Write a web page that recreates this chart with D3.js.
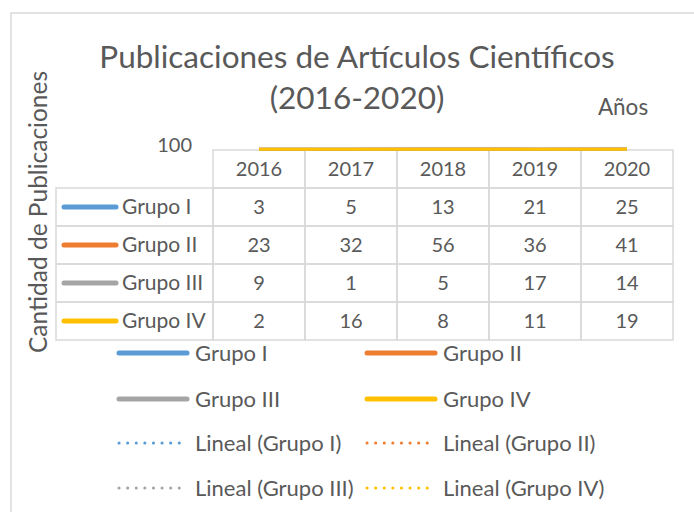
<!DOCTYPE html>
<html>
<head>
<meta charset="utf-8">
<script src="https://cdn.jsdelivr.net/npm/d3@7"></script>
<style>
  body { margin: 0; background: #fff; }
  text { font-family: Lato, "Open Sans", sans-serif; fill: #595959; }
</style>
</head>
<body>
<div id="chart"></div>
<script>
// Data
const years = ['2016', '2017', '2018', '2019', '2020'];
const seriesNames = ['Grupo I', 'Grupo II', 'Grupo III', 'Grupo IV'];
const grupoI = [3, 5, 13, 21, 25];
const grupoII = [23, 32, 56, 36, 41];
const grupoIII = [9, 1, 5, 17, 14];
const grupoIV = [2, 16, 8, 11, 19];
const yTicks = [100];
const colors = ['#5B9BD5', '#ED7D31', '#A5A5A5', '#FFC000'];

const series = seriesNames.map((name, i) => ({
    name: name,
    values: [grupoI, grupoII, grupoIII, grupoIV][i],
    color: colors[i]
}));

const width = 694;
const height = 512;
const grid = '#d9d9d9';

const svg = d3.select('#chart')
    .append('svg')
    .attr('width', width)
    .attr('height', height);

// chart border
svg.append('path')
    .attr('d', 'M11,520 L11,13 L700,13')
    .attr('fill', 'none')
    .attr('stroke', grid)
    .attr('stroke-width', 1.5);

// Title
svg.append('text')
    .attr('x', 357).attr('y', 68)
    .attr('text-anchor', 'middle')
    .style('font-size', '31.5px')
    .text('Publicaciones de Artículos Científicos');
svg.append('text')
    .attr('x', 357).attr('y', 109)
    .attr('text-anchor', 'middle')
    .style('font-size', '31.5px')
    .text('(2016-2020)');

// Axis titles
svg.append('text')
    .attr('x', 623).attr('y', 115)
    .attr('text-anchor', 'middle')
    .style('font-size', '22.5px')
    .text('Años');
svg.append('text')
    .attr('transform', 'translate(47,212) rotate(-90)')
    .attr('text-anchor', 'middle')
    .style('font-size', '24.5px')
    .text('Cantidad de Publicaciones');

// Scales: plot area is squeezed to the top edge of the data table
const x = d3.scaleBand()
    .domain(years)
    .range([213, 673]);
const y = d3.scaleLinear()
    .domain([0, 100])
    .range([149.2, 149]);

svg.append('g')
    .attr('transform', 'translate(192,0)')
    .call(d3.axisLeft(y).tickValues(yTicks).tickSize(0).tickPadding(0))
    .call(g => g.select('.domain').remove())
    .selectAll('text')
    .style('font-size', '20px')
    .style('font-family', 'Lato, sans-serif')
    .attr('fill', '#595959')
    .attr('dy', '0.1em');

const cx = d => x(d) + x.bandwidth() / 2;

// Data table
const headTop = 150, rowH = 38, keyLeft = 56;
const tbl = svg.append('g');

// header cells
years.forEach(yr => {
    tbl.append('rect')
        .attr('x', x(yr)).attr('y', headTop)
        .attr('width', x.bandwidth()).attr('height', rowH)
        .attr('fill', 'none').attr('stroke', grid).attr('stroke-width', 1.5);
    tbl.append('text')
        .attr('x', cx(yr)).attr('y', headTop + rowH / 2)
        .attr('dy', '0.35em')
        .attr('text-anchor', 'middle')
        .style('font-size', '20px')
        .text(yr);
});

series.forEach((s, i) => {
    const top = headTop + rowH * (i + 1);
    tbl.append('rect')
        .attr('x', keyLeft).attr('y', top)
        .attr('width', x(years[0]) - keyLeft).attr('height', rowH)
        .attr('fill', 'none').attr('stroke', grid).attr('stroke-width', 1.5);
    tbl.append('line')
        .attr('x1', 64).attr('x2', 116)
        .attr('y1', top + rowH / 2).attr('y2', top + rowH / 2)
        .attr('stroke', s.color).attr('stroke-width', 5)
        .attr('stroke-linecap', 'round');
    tbl.append('text')
        .attr('x', 122).attr('y', top + rowH / 2)
        .attr('dy', '0.35em')
        .style('font-size', '21px')
        .text(s.name);
    s.values.forEach((v, j) => {
        tbl.append('rect')
            .attr('x', x(years[j])).attr('y', top)
            .attr('width', x.bandwidth()).attr('height', rowH)
            .attr('fill', 'none').attr('stroke', grid).attr('stroke-width', 1.5);
        tbl.append('text')
            .attr('x', cx(years[j])).attr('y', top + rowH / 2)
            .attr('dy', '0.35em')
            .attr('text-anchor', 'middle')
            .style('font-size', '20px')
            .text(v);
    });
});

// Trend lines (linear fit)
function fit(values) {
    const n = values.length;
    const xs = d3.range(n);
    const mx = d3.mean(xs), my = d3.mean(values);
    const b = d3.sum(xs, (v, i) => (v - mx) * (values[i] - my)) / d3.sum(xs, v => (v - mx) * (v - mx));
    return xs.map(v => my + b * (v - mx));
}

const line = d3.line()
    .x((d, i) => cx(years[i]))
    .y(d => y(d));

// trend lines first, series lines on top (Grupo IV ends up visible)
series.forEach(s => {
    svg.append('path')
        .datum(fit(s.values))
        .attr('fill', 'none')
        .attr('stroke', s.color)
        .attr('stroke-width', 2)
        .attr('stroke-dasharray', '2,3')
        .attr('d', line);
});
series.forEach(s => {
    svg.append('path')
        .datum(s.values)
        .attr('fill', 'none')
        .attr('stroke', s.color)
        .attr('stroke-width', 3)
        .attr('d', line);
});

// Legend
const legendItems = series.map(s => ({ label: s.name, color: s.color, dotted: false }))
    .concat(series.map(s => ({ label: 'Lineal (' + s.name + ')', color: s.color, dotted: true })));
const legendRows = [353, 399, 443, 488];
const legendCols = [117, 365];

const leg = svg.append('g');
legendItems.forEach((d, i) => {
    const lx = legendCols[i % 2];
    const ly = legendRows[Math.floor(i / 2)];
    leg.append('line')
        .attr('x1', lx + 2).attr('x2', lx + 70)
        .attr('y1', ly).attr('y2', ly)
        .attr('stroke', d.color)
        .attr('stroke-width', d.dotted ? 3 : 5)
        .attr('stroke-linecap', 'round')
        .attr('stroke-dasharray', d.dotted ? '0.1,8.5' : null);
    leg.append('text')
        .attr('x', lx + 78).attr('y', ly)
        .attr('dy', '0.35em')
        .style('font-size', '22px')
        .text(d.label);
});
</script>
</body>
</html>
